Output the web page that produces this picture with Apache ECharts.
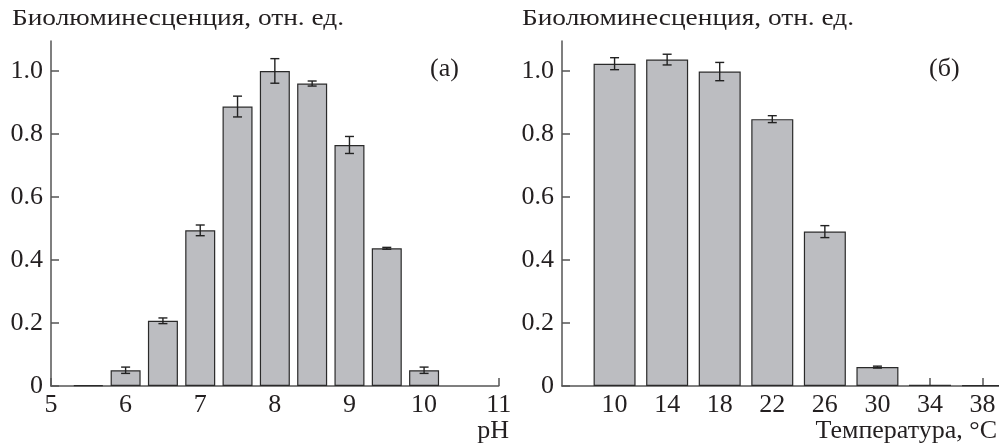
<!DOCTYPE html>
<html>
<head>
<meta charset="utf-8">
<script src="https://cdn.jsdelivr.net/npm/echarts@6/dist/echarts.min.js"></script>
<style>
  html, body { margin: 0; padding: 0; background: #fff; }
  #chart { width: 999px; height: 443px; }
</style>
</head>
<body>
<div id="chart"></div>
<script>
// панель (а): pH
var phX = [5.5, 6, 6.5, 7, 7.5, 8, 8.5, 9, 9.5, 10];
var phVal = [0.003, 0.05, 0.207, 0.494, 0.887, 1.0, 0.96, 0.765, 0.437, 0.05];
var phErr = [0, 0.01, 0.009, 0.017, 0.033, 0.039, 0.008, 0.027, 0.003, 0.01];

// панель (б): температура
var tX = [10, 14, 18, 22, 26, 30, 34, 38];
var tVal = [1.023, 1.036, 0.998, 0.847, 0.49, 0.06, 0.004, 0.003];
var tErr = [0.019, 0.017, 0.029, 0.011, 0.019, 0.003, 0, 0];

var yTicks = [0, 0.2, 0.4, 0.6, 0.8, 1.0];
var tTicks = [10, 14, 18, 22, 26, 30, 34, 38];

var FONT = '"Liberation Serif", "Times New Roman", "DejaVu Serif", serif';
var TXT = '#231f20';
var AX = '#555';

function pairs(xs, ys) {
    return xs.map(function (x, i) { return [x, ys[i]]; });
}
function errData(xs, ys, es) {
    return xs.map(function (x, i) { return [x, ys[i], es[i]]; });
}

// рисуем "усы" погрешности
function renderErr(params, api) {
    var e = api.value(2);
    if (!e) return;
    var x = api.value(0), y = api.value(1);
    var p1 = api.coord([x, y + e]);
    var p2 = api.coord([x, y - e]);
    var w = 4.5;
    var st = { stroke: '#222', lineWidth: 1.4 };
    return {
        type: 'group',
        children: [
            { type: 'line', shape: { x1: p1[0], y1: p1[1], x2: p2[0], y2: p2[1] }, style: st },
            { type: 'line', shape: { x1: p1[0] - w, y1: p1[1], x2: p1[0] + w, y2: p1[1] }, style: st },
            { type: 'line', shape: { x1: p2[0] - w, y1: p2[1], x2: p2[0] + w, y2: p2[1] }, style: st }
        ]
    };
}

function yAxisOpt(idx) {
    return {
        type: 'value', gridIndex: idx, min: 0, max: 1.095,
        axisLine: { show: true, lineStyle: { color: AX, width: 1.5 } },
        axisTick: { show: true, inside: true, length: 8, customValues: yTicks, lineStyle: { color: AX, width: 1.5 } },
        axisLabel: {
            customValues: yTicks, margin: 8, color: TXT, fontFamily: FONT, fontSize: 26,
            formatter: function (v) { return v === 0 ? '0' : v.toFixed(1); }
        },
        splitLine: { show: false }
    };
}

// подпись; шрифт в оригинале немного шире, поэтому растягиваем по x
function label(s, x, y, size, sx, align) {
    return {
        type: 'text', x: x, y: y, scaleX: sx || 1,
        style: { text: s, fontFamily: FONT, fontSize: size, fill: TXT, align: align || 'left', verticalAlign: 'top' }
    };
}

var myChart = echarts.init(document.getElementById('chart'));

var option = {
    animation: false,
    backgroundColor: '#fff',
    grid: [
        { left: 51, top: 41, width: 447.7, bottom: 57 },
        { left: 562, top: 41, right: 0, bottom: 57 }
    ],
    xAxis: [
        {
            type: 'value', gridIndex: 0, min: 5, max: 11, interval: 1,
            axisLine: { lineStyle: { color: AX, width: 1.5 } },
            axisTick: { show: true, inside: true, length: 8, lineStyle: { color: AX, width: 1.5 } },
            axisLabel: { margin: 6, color: TXT, fontFamily: FONT, fontSize: 26, showMinLabel: true, showMaxLabel: true },
            splitLine: { show: false }
        },
        {
            type: 'value', gridIndex: 1, min: 6, max: 39.25,
            axisLine: { lineStyle: { color: AX, width: 1.5 } },
            axisTick: { show: true, inside: true, length: 8, customValues: tTicks, lineStyle: { color: AX, width: 1.5 } },
            axisLabel: { customValues: tTicks, margin: 6, color: TXT, fontFamily: FONT, fontSize: 26 },
            splitLine: { show: false }
        }
    ],
    yAxis: [yAxisOpt(0), yAxisOpt(1)],
    graphic: [
        label('Биолюминесценция, отн. ед.', 12, 7, 24, 1.14),
        label('Биолюминесценция, отн. ед.', 522, 7, 24, 1.14),
        label('(а)', 430, 56, 26),
        label('(б)', 929, 56, 26),
        label('pH', 509, 418, 26, 1, 'right'),
        label('Температура, °C', 997, 418, 26, 1, 'right')
    ],
    series: [
        {
            type: 'bar', xAxisIndex: 0, yAxisIndex: 0, barWidth: 30,
            data: pairs(phX, phVal),
            itemStyle: { color: '#bcbdc1', borderColor: '#2a2a2a', borderWidth: 1.2 }
        },
        {
            type: 'custom', xAxisIndex: 0, yAxisIndex: 0, renderItem: renderErr,
            data: errData(phX, phVal, phErr), z: 5
        },
        {
            type: 'bar', xAxisIndex: 1, yAxisIndex: 1, barWidth: 42,
            data: pairs(tX, tVal),
            itemStyle: { color: '#bcbdc1', borderColor: '#2a2a2a', borderWidth: 1.2 }
        },
        {
            type: 'custom', xAxisIndex: 1, yAxisIndex: 1, renderItem: renderErr,
            data: errData(tX, tVal, tErr), z: 5
        }
    ]
};

myChart.setOption(option);
</script>
</body>
</html>
